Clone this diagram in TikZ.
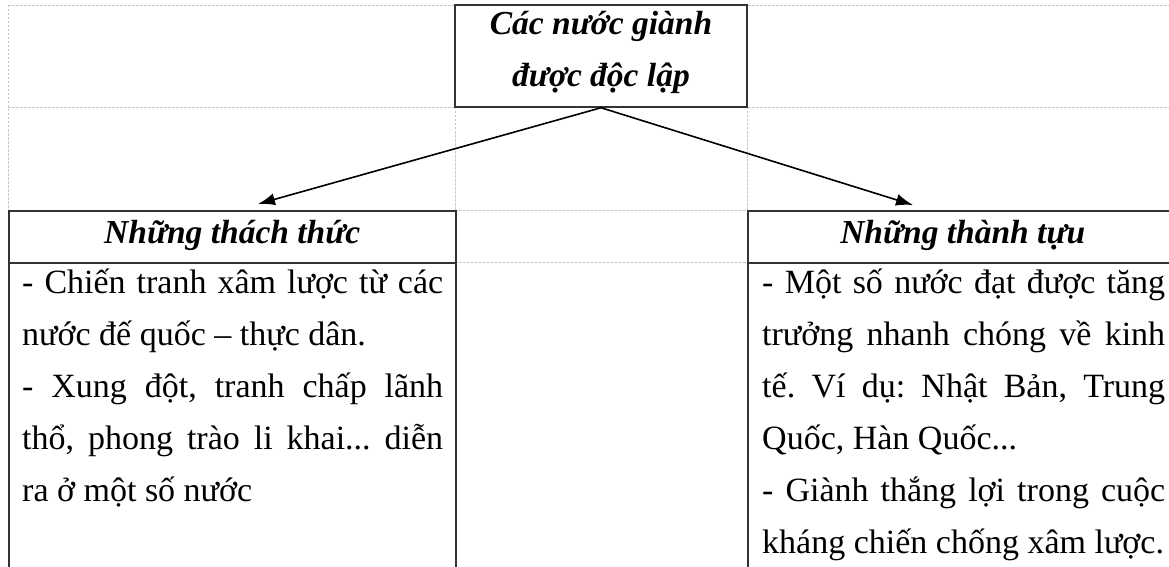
\documentclass[tikz,border=0pt]{standalone}
\usepackage{fontspec}
\setmainfont{Liberation Serif}
\usetikzlibrary{arrows.meta}
\hyphenpenalty=10000
\frenchspacing
\tikzset{
  gridline/.style={draw=black!22, line width=0.8pt, dash pattern=on 2.5pt off 1.5pt},
  box/.style={rectangle, draw=black!80, line width=1.5pt, inner sep=0pt},
  headtext/.style={font=\fontsize{33.5}{52}\selectfont\bfseries\itshape},
  bodytext/.style={font=\fontsize{34}{52}\selectfont, inner sep=0pt, anchor=base west},
  link/.style={line width=1.6pt, -{Latex[length=17pt,width=12pt]}}
}
\begin{document}
\begin{tikzpicture}[x=1pt,y=-1pt]
\useasboundingbox (0,0) rectangle (1169,567);
\clip (0,0) rectangle (1169,567);
% table grid behind the chart
\draw[gridline] (8,5) -- (1169,5);
\draw[gridline] (8,107) -- (1169,107);
\draw[gridline] (455,210) -- (747,210);
\draw[gridline] (455,262) -- (747,262);
\foreach \x in {8} {
    \draw[gridline] (\x,5) -- (\x,210);
}
\foreach \x in {455,747} {
    \draw[gridline] (\x,107) -- (\x,210);
}
% boxes
\node[box, minimum width=292pt, minimum height=102pt] (goc) at (601,56) {};
\node[headtext, inner sep=0pt, anchor=base] (gocText) at (601,35)
    {\parbox[t]{290pt}{\centering Các nước giành\\được độc lập}};
\node[box, headtext, minimum width=447pt, minimum height=52pt, text height=23pt, text depth=9pt, anchor=north west] (thachthuc) at (8,210) {Những thách thức};
\node[box, minimum width=447pt, minimum height=340pt, anchor=north west] (thachthucBody) at (8,262) {};
\node[box, headtext, minimum width=430pt, minimum height=52pt, text height=23pt, text depth=9pt, anchor=north west] (thanhtuu) at (747,210) {Những thành tựu};
\node[box, minimum width=430pt, minimum height=340pt, anchor=north west] (thanhtuuBody) at (747,262) {};
% texts
\node[bodytext] (thachthucText) at (22,293) {\parbox[t]{421pt}{%
- Chiến tranh xâm lược từ các\linebreak nước đế quốc – thực dân.\par
- Xung đột, tranh chấp lãnh\linebreak thổ, phong trào li khai... diễn\linebreak ra ở một số nước}};
\node[bodytext] (thanhtuuText) at (762,293) {\parbox[t]{403pt}{%
- Một số nước đạt được tăng\linebreak trưởng nhanh chóng về kinh\linebreak tế. Ví dụ: Nhật Bản, Trung\linebreak Quốc, Hàn Quốc...\par
- Giành thắng lợi trong cuộc\linebreak kháng chiến chống xâm lược.}};
% arrows
\coordinate (tipL) at (258,204);
\coordinate (tipR) at (913,205);
\draw[link] (goc.south) -- (tipL);
\draw[link] (goc.south) -- (tipR);
\end{tikzpicture}
\end{document}
